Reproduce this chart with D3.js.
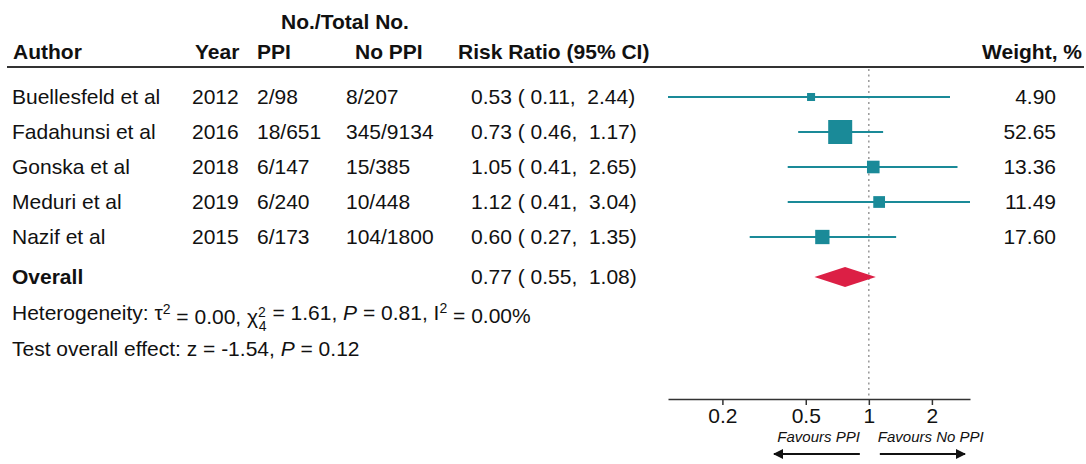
<!DOCTYPE html>
<html>
<head>
<meta charset="utf-8">
<script src="https://cdn.jsdelivr.net/npm/d3@7"></script>
<style>
  html, body { margin: 0; padding: 0; background: #fff; }
  svg text { font-family: "Liberation Sans", Arial, Helvetica, sans-serif; fill: #111; white-space: pre; }
</style>
</head>
<body>
<svg id="chart" width="1086" height="464"></svg>
<script>
// ---- data ----
const authors = ["Buellesfeld et al", "Fadahunsi et al", "Gonska et al", "Meduri et al", "Nazif et al"];
const years = ["2012", "2016", "2018", "2019", "2015"];
const ppi = ["2/98", "18/651", "6/147", "6/240", "6/173"];
const noPpi = ["8/207", "345/9134", "15/385", "10/448", "104/1800"];
const rr = [0.53, 0.73, 1.05, 1.12, 0.60];
const lower = [0.11, 0.46, 0.41, 0.41, 0.27];
const upper = [2.44, 1.17, 2.65, 3.04, 1.35];
const weights = [4.90, 52.65, 13.36, 11.49, 17.60];
const overall = [0.77, 0.55, 1.08]; // estimate, lower, upper
const tickValues = [0.2, 0.5, 1, 2];

// ---- layout ----
const svg = d3.select("#chart");
const FS = 21;
const SUP = 14;
const teal = "#1a8a98";
const red = "#dc1f45";
const f2 = d3.format(".2f");

const x = d3.scaleLog().domain([lower[0], upper[3]]).range([668, 970]);
const y = d3.scaleLinear().domain([0, authors.length - 1]).range([97, 237]);
const yOverall = 277;
const size = d3.scaleSqrt().domain([0, d3.max(weights)]).range([1, 24]);

const cols = { author: 12, year: 192, ppi: 257, noppi: 346, rr: 471, weight: 1056 };

// headers
svg.append("text").attr("x", 345).attr("y", 22).attr("dy", "0.35em")
  .attr("text-anchor", "middle").attr("font-weight", "bold").attr("font-size", FS).text("No./Total No.");
const headers = [
  { t: "Author", x: 13, a: "start" },
  { t: "Year", x: 195, a: "start" },
  { t: "PPI", x: 257, a: "start" },
  { t: "No PPI", x: 355, a: "start" },
  { t: "Risk Ratio (95% CI)", x: 458, a: "start" },
  { t: "Weight, %", x: 1082, a: "end" }
];
svg.selectAll("text.hdr").data(headers).enter().append("text")
  .attr("class", "hdr").attr("x", d => d.x).attr("y", 52).attr("dy", "0.35em")
  .attr("text-anchor", d => d.a).attr("font-weight", "bold").attr("font-size", FS).text(d => d.t);
svg.append("line").attr("x1", 7).attr("x2", 1084).attr("y1", 67).attr("y2", 67)
  .attr("stroke", "#333").attr("stroke-width", 2.2);

// reference line at 1
svg.append("line").attr("x1", x(1)).attr("x2", x(1)).attr("y1", 69).attr("y2", 399)
  .attr("stroke", "#888").attr("stroke-width", 1.3).attr("stroke-dasharray", "2,3.5");

// rows
const rows = authors.map((a, i) => ({ i, a, yr: years[i], p: ppi[i], n: noPpi[i], rr: rr[i], lo: lower[i], hi: upper[i], w: weights[i] }));
const g = svg.selectAll("g.row").data(rows).enter().append("g").attr("class", "row")
  .attr("transform", d => `translate(0,${y(d.i)})`);
const txt = (sel, xPos, fn, anchor) => sel.append("text").attr("x", xPos).attr("y", 0).attr("dy", "0.35em")
  .attr("font-size", FS).attr("text-anchor", anchor || "start").text(fn);
txt(g, cols.author, d => d.a);
txt(g, cols.year, d => d.yr);
txt(g, cols.ppi, d => d.p);
txt(g, cols.noppi, d => d.n);
txt(g, cols.rr, d => `${f2(d.rr)} ( ${f2(d.lo)},  ${f2(d.hi)})`);
txt(g, cols.weight, d => f2(d.w), "end");
g.append("line").attr("x1", d => x(d.lo)).attr("x2", d => x(d.hi)).attr("y1", 0).attr("y2", 0)
  .attr("stroke", teal).attr("stroke-width", 2.2);
g.append("rect").attr("x", d => x(d.rr) - size(d.w) / 2).attr("y", d => -size(d.w) / 2)
  .attr("width", d => size(d.w)).attr("height", d => size(d.w)).attr("fill", teal);

// overall
svg.append("text").attr("x", cols.author).attr("y", yOverall).attr("dy", "0.35em")
  .attr("font-size", FS).attr("font-weight", "bold").text("Overall");
svg.append("text").attr("x", cols.rr).attr("y", yOverall).attr("dy", "0.35em")
  .attr("font-size", FS).text(`${f2(overall[0])} ( ${f2(overall[1])},  ${f2(overall[2])})`);
svg.append("path")
  .attr("d", `M${x(overall[1])},${yOverall} L${x(overall[0])},${yOverall - 10} L${x(overall[2])},${yOverall} L${x(overall[0])},${yOverall + 10} Z`)
  .attr("fill", red);

// heterogeneity
const het = svg.append("text").attr("x", cols.author).attr("y", 313).attr("dy", "0.35em").attr("font-size", FS);
het.append("tspan").text("Heterogeneity: τ");
het.append("tspan").attr("font-size", SUP).attr("dy", "-0.45em").text("2");
het.append("tspan").attr("dy", "0.45em").text(" = 0.00, χ");
het.append("tspan").attr("font-size", SUP).attr("dy", "-0.45em").text("2");
het.append("tspan").attr("font-size", SUP).attr("dx", -7).attr("dy", "1.0em").text("4");
het.append("tspan").attr("dy", "-0.55em").text(" = 1.61, ");
het.append("tspan").attr("font-style", "italic").text("P");
het.append("tspan").text(" = 0.81, I");
het.append("tspan").attr("font-size", SUP).attr("dy", "-0.45em").text("2");
het.append("tspan").attr("dy", "0.45em").text(" = 0.00%");

const test = svg.append("text").attr("x", cols.author).attr("y", 349).attr("dy", "0.35em").attr("font-size", FS);
test.append("tspan").text("Test overall effect: z = -1.54, ");
test.append("tspan").attr("font-style", "italic").text("P");
test.append("tspan").text(" = 0.12");

// axis
const axis = d3.axisBottom(x).tickValues(tickValues).tickFormat(d3.format("")).tickSize(6).tickSizeOuter(0);
const ax = svg.append("g").attr("transform", "translate(0,399)").call(axis);
ax.select(".domain").attr("stroke", "#333").attr("stroke-width", 1.5);
ax.selectAll(".tick line").attr("stroke", "#333").attr("stroke-width", 1.5);
ax.selectAll(".tick text").attr("font-size", FS).attr("font-family", "Liberation Sans, Arial, sans-serif")
  .attr("fill", "#111").attr("y", 9);

// favours labels and arrows
svg.append("defs").append("marker").attr("id", "ah").attr("viewBox", "0 0 10 10")
  .attr("refX", 9).attr("refY", 5).attr("markerWidth", 5).attr("markerHeight", 5).attr("orient", "auto-start-reverse")
  .append("path").attr("d", "M0,0 L10,5 L0,10 Z").attr("fill", "#111");
svg.append("text").attr("x", x(1) - 9).attr("y", 437).attr("dy", "0.35em").attr("text-anchor", "end")
  .attr("font-size", 15).attr("font-style", "italic").text("Favours PPI");
svg.append("text").attr("x", x(1) + 9).attr("y", 437).attr("dy", "0.35em").attr("text-anchor", "start")
  .attr("font-size", 15).attr("font-style", "italic").text("Favours No PPI");
svg.append("line").attr("x1", x(1) - 9).attr("x2", 774).attr("y1", 454).attr("y2", 454)
  .attr("stroke", "#111").attr("stroke-width", 2).attr("marker-end", "url(#ah)");
svg.append("line").attr("x1", x(1) + 11).attr("x2", 965).attr("y1", 454).attr("y2", 454)
  .attr("stroke", "#111").attr("stroke-width", 2).attr("marker-end", "url(#ah)");
</script>
</body>
</html>
